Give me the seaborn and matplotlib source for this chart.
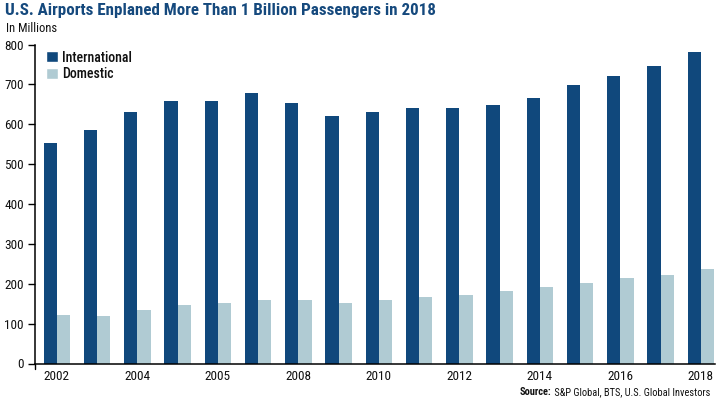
import matplotlib
matplotlib.use("Agg")
import matplotlib.pyplot as plt
import seaborn as sns
import pandas as pd
from matplotlib.patches import Patch

positions = list(range(17))
international = [553, 585, 631, 659, 659, 678, 653, 620, 630, 642, 642, 648, 665, 698, 722, 745, 780]
domestic = [122, 118, 135, 146, 152, 160, 160, 152, 160, 166, 173, 181, 192, 202, 215, 222, 236]
tick_positions = [0, 2, 4, 6, 8, 10, 12, 14, 16]
tick_labels = ["2002", "2004", "2005", "2008", "2010", "2012", "2014", "2016", "2018"]
yticks = [0, 100, 200, 300, 400, 500, 600, 700, 800]

sns.set_theme(style="white")
FONT = ["Roboto Condensed", "DejaVu Sans"]
plt.rcParams["font.family"] = FONT

df = pd.DataFrame({
    "pos": positions * 2,
    "value": international + domestic,
    "series": ["International"] * 17 + ["Domestic"] * 17,
})
NAVY = "#10487c"
PALE = "#b0cbd3"
INK = "#111111"

W, H = 725, 400
fig = plt.figure(figsize=(W / 100, H / 100), dpi=100, facecolor="white")
ax = fig.add_axes([35 / W, 1 - 363.5 / H, (715 - 35) / W, (363.5 - 44.5) / H])
sns.barplot(data=df, x="pos", y="value", hue="series", palette=[NAVY, PALE],
            hue_order=["International", "Domestic"], width=0.66, gap=0,
            dodge=True, saturation=1, legend=False, ax=ax, linewidth=0)
ax.set_xlim(-0.545, 16.35)
ax.set_ylim(0, 800)
ax.set_xlabel("")
ax.set_ylabel("")
ax.set_yticks(yticks)
ax.set_yticklabels([str(v) for v in yticks], fontsize=9.5, color=INK)
ax.set_xticks(tick_positions)
ax.set_xticklabels(tick_labels, fontsize=9.5, color=INK)
ax.tick_params(axis="y", length=5, width=1, color="black", pad=3, left=True)
ax.tick_params(axis="x", length=0, pad=5, bottom=False)
ax.plot([0, 0], [0, -5 / 319], transform=ax.transAxes, color="black", lw=1, clip_on=False)
for s in ["top", "right"]:
    ax.spines[s].set_visible(False)
for s in ["left", "bottom"]:
    ax.spines[s].set_visible(True)
    ax.spines[s].set_color("black")
    ax.spines[s].set_linewidth(1.1)

handles = [Patch(facecolor=NAVY, label="International"), Patch(facecolor=PALE, label="Domestic")]
ax.legend(handles=handles, loc="upper left", bbox_to_anchor=(-0.0015, 1.02), frameon=False,
          handlelength=0.8, handleheight=0.8, handletextpad=0.35, labelspacing=0.2,
          labelcolor=INK, prop={"family": FONT, "size": 10, "weight": 500})

fig.text(5 / W, 1 - 11 / H, "U.S. Airports Enplaned More Than 1 Billion Passengers in 2018",
         fontsize=12.22, fontweight="bold", color="#15497d", va="center", ha="left")
fig.text(6 / W, 1 - 28 / H, "In Millions", fontsize=9, color=INK, va="center", ha="left")
src = fig.text(710 / W, 1 - 392 / H, " S&P Global, BTS, U.S. Global Investors",
               fontsize=7.5, color=INK, va="center", ha="right")
fig.canvas.draw()
left = src.get_window_extent().x0
fig.text(left / W, 1 - 392 / H, "Source:", fontsize=7.5, fontweight="bold", color=INK,
         va="center", ha="right")
fig.savefig("out.png", dpi=100, facecolor="white")
